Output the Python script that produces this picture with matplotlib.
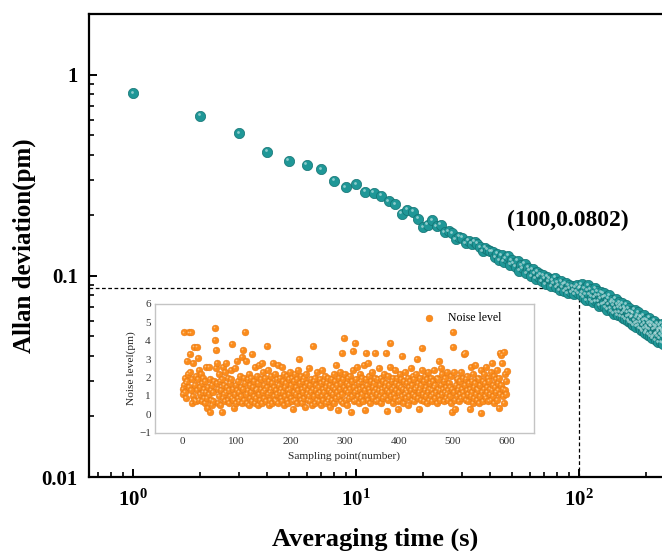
import numpy as np
import matplotlib
matplotlib.use("Agg")
import matplotlib.pyplot as plt
from matplotlib.ticker import LogLocator, NullFormatter, FuncFormatter, FixedLocator, FixedFormatter
from matplotlib.transforms import offset_copy

plt.rcParams['font.family'] = ['Liberation Serif', 'DejaVu Serif']
plt.rcParams['mathtext.fontset'] = 'custom'
plt.rcParams['mathtext.rm'] = 'Liberation Serif'
plt.rcParams['mathtext.bf'] = 'Liberation Serif:bold'

#
# Allan deviation, tau = 1, 2, 3 ... seconds
#
allan_dev = [
    0.814, 0.628, 0.514, 0.415, 0.374, 0.357, 0.340, 0.298, 0.277, 0.287,
    0.262, 0.259, 0.251, 0.235, 0.228, 0.204, 0.214, 0.209, 0.193, 0.175,
    0.180, 0.189, 0.177, 0.180, 0.165, 0.167, 0.163, 0.152, 0.157, 0.155,
    0.146, 0.150, 0.145, 0.148, 0.145, 0.139, 0.133, 0.138, 0.135, 0.133,
    0.132, 0.124, 0.129, 0.120, 0.127, 0.118, 0.123, 0.126, 0.114, 0.120,
    0.116, 0.111, 0.119, 0.106, 0.113, 0.109, 0.115, 0.103, 0.110, 0.106,
    0.100, 0.108, 0.103, 0.097, 0.105, 0.099, 0.102, 0.094, 0.101, 0.097,
    0.091, 0.099, 0.094, 0.097, 0.089, 0.095, 0.092, 0.098, 0.088, 0.093,
    0.090, 0.085, 0.094, 0.088, 0.091, 0.084, 0.092, 0.086, 0.082, 0.090,
    0.087, 0.083, 0.089, 0.085, 0.081, 0.088, 0.084, 0.090, 0.082, 0.087,
    0.088, 0.080, 0.091, 0.083, 0.078, 0.087, 0.081, 0.076, 0.085, 0.090,
    0.081, 0.076, 0.086, 0.079, 0.074, 0.083, 0.078, 0.087, 0.075, 0.080,
    0.084, 0.075, 0.071, 0.080, 0.077, 0.083, 0.072, 0.078, 0.082, 0.073,
    0.070, 0.079, 0.075, 0.068, 0.077, 0.072, 0.080, 0.069, 0.074, 0.067,
    0.076, 0.071, 0.065, 0.074, 0.069, 0.077, 0.066, 0.072, 0.064, 0.070,
    0.074, 0.066, 0.071, 0.063, 0.069, 0.073, 0.065, 0.062, 0.070, 0.067,
    0.061, 0.068, 0.072, 0.063, 0.066, 0.060, 0.069, 0.064, 0.059, 0.067,
    0.062, 0.058, 0.066, 0.063, 0.057, 0.065, 0.060, 0.068, 0.058, 0.062,
    0.056, 0.064, 0.059, 0.066, 0.057, 0.061, 0.055, 0.063, 0.059, 0.054,
    0.062, 0.057, 0.053, 0.060, 0.064, 0.055, 0.058, 0.052, 0.061, 0.056,
    0.053, 0.060, 0.055, 0.051, 0.058, 0.062, 0.054, 0.050, 0.057, 0.059,
    0.052, 0.056, 0.049, 0.058, 0.054, 0.050, 0.057, 0.060, 0.051, 0.055,
    0.048, 0.056, 0.052, 0.058, 0.050, 0.054, 0.047, 0.053, 0.057, 0.049,
    0.055, 0.051, 0.047, 0.054, 0.058, 0.050, 0.053, 0.046, 0.052, 0.056,
]
tau = np.arange(1, len(allan_dev) + 1)

# marked point
mark_tau = 100
mark_dev = 0.0875
mark_label = "(100,0.0802)"

#
# Noise level of each sampling point (inset)
#
noise_level = np.array("""
1.4 1.1 4.45 1.6 2.0 1.2 0.9 1.7 2.9 1.8 2.2 4.45 1.5 2.3 3.3 4.45 1.3 1.9 0.6 2.8
1.0 3.65 0.8 1.6 2.1 0.7 1.3 3.65 1.9 3.05 2.4 0.8 1.5 1.1 2.2 0.7 1.7 1.2 2.0 0.9
1.4 1.8 0.6 2.6 1.2 0.9 0.33 1.5 1.1 2.6 0.15 1.9 0.8 1.3 1.6 0.5 1.2 0.7 1.8 4.67
4.04 2.5 3.5 1.7 2.8 0.6 1.4 1.0 2.2 1.8 0.5 1.3 0.15 1.9 0.9 2.6 1.1 1.6 0.7 2.3
1.2 2.8 1.5 0.8 2.0 1.3 0.6 1.7 1.0 2.4 1.9 3.85 0.9 1.4 0.8 0.35 1.1 2.5 0.6 1.6
1.3 2.9 0.9 1.8 1.2 0.7 2.1 1.5 1.0 3.1 0.6 1.4 3.5 2.0 0.8 1.7 4.49 2.9 1.1 0.6
1.9 1.3 2.2 0.5 1.6 0.9 1.2 2.0 0.7 3.3 1.5 1.0 1.8 0.6 2.6 1.3 0.9 2.1 1.4 0.5
1.7 2.7 1.1 0.8 1.9 1.4 2.8 0.6 1.2 2.3 1.6 0.9 1.3 2.0 0.7 3.7 1.5 1.1 2.4 0.5
1.8 1.2 0.8 2.1 1.4 0.6 1.7 2.8 1.0 1.5 0.8 2.2 1.3 0.7 1.9 1.1 2.7 0.6 1.6 1.2
2.0 0.9 1.4 2.6 0.7 1.8 1.2 0.5 2.2 1.5 1.0 1.7 0.8 2.1 1.3 0.6 1.9 1.1 2.3 1.4
0.9 1.6 2.0 0.7 0.28 1.8 1.2 2.2 0.8 1.5 1.1 1.9 0.6 2.4 1.3 3.0 1.0 1.7 0.8 2.1
1.4 0.6 1.8 1.2 2.0 0.9 1.5 0.4 2.2 1.1 1.7 0.8 1.3 2.5 1.0 1.6 0.7 1.9 1.2 0.5
1.4 3.7 1.8 1.0 0.6 2.0 1.3 1.6 0.8 2.3 1.1 1.5 0.7 1.9 1.2 0.5 1.7 2.4 1.0 1.4
0.8 1.8 1.2 2.1 0.6 1.5 1.0 1.7 0.7 2.0 1.3 0.9 1.6 0.4 1.2 1.9 0.8 1.5 1.1 2.2
0.6 1.4 1.8 0.9 2.7 1.2 1.6 0.25 2.0 1.0 1.4 2.3 0.7 1.7 3.35 1.1 1.9 0.6 4.13 1.5
2.2 0.8 1.3 1.7 0.5 2.0 1.2 1.6 0.9 2.1 1.4 0.15 1.8 1.0 2.4 3.45 0.7 1.5 3.9 1.2
1.9 0.8 2.6 1.3 1.0 1.7 0.6 2.2 1.4 0.9 1.8 1.1 2.0 0.7 1.5 2.7 0.25 1.3 1.9 3.36
1.0 1.6 2.8 0.8 1.4 2.1 1.2 0.6 1.8 1.0 2.3 1.5 0.9 1.7 1.2 2.0 3.33 0.7 1.4 1.1
1.9 0.8 2.5 1.3 1.6 1.0 0.6 2.0 1.4 1.2 1.8 0.9 2.2 1.5 1.0 3.33 1.7 0.2 1.3 2.1
0.8 1.6 1.2 2.6 3.9 1.0 1.8 1.4 0.6 2.0 1.1 1.5 2.4 0.9 1.7 1.3 2.0 0.7 0.3 1.6
1.2 2.2 0.8 1.5 1.9 1.0 3.15 1.4 0.6 1.8 1.1 2.3 1.3 0.9 1.7 1.2 2.0 0.5 1.5 1.0
1.8 2.5 1.3 0.8 1.6 2.1 1.1 0.7 1.9 1.4 1.0 2.2 1.5 3.0 0.9 1.7 0.3 1.2 2.0 1.4
0.8 1.6 2.4 3.6 1.1 1.8 0.7 1.3 2.1 1.0 1.5 0.6 1.9 1.2 2.3 0.8 1.4 1.7 1.0 2.0
1.3 0.7 1.8 1.1 2.4 1.5 0.9 1.6 1.2 2.0 0.6 1.4 1.9 1.0 2.9 1.3 0.8 2.5 1.6 1.1
2.2 1.4 0.7 1.8 1.2 2.0 0.9 1.5 1.1 2.3 1.3 0.8 1.7 1.0 1.5 2.1 0.6 1.4 0.15 3.65
4.47 1.2 2.3 0.8 0.28 1.6 1.0 1.9 1.3 2.0 0.7 1.5 1.1 1.8 2.3 0.9 1.4 1.2 2.0 3.3
1.0 1.6 3.35 0.8 1.9 1.3 2.1 1.1 0.7 1.7 0.3 1.4 2.6 1.0 1.8 1.2 0.6 2.2 1.5 0.9
1.7 2.7 1.1 1.4 0.8 2.0 1.3 0.6 1.9 1.0 1.6 2.4 0.05 1.2 1.8 0.7 2.2 1.4 1.0 1.7
2.6 0.9 1.5 1.2 2.0 0.7 1.8 1.1 1.4 2.3 0.8 2.8 1.3 1.6 1.0 2.1 0.6 1.5 1.9 1.2
2.4 0.8 1.7 1.3 0.35 2.0 1.1 3.35 1.6 3.2 2.8 1.0 1.4 3.4 0.6 2.2 1.3 1.8 1.1 2.35
""".split(), dtype=float)
sample_no = np.arange(1, len(noise_level) + 1)

teal = "#1f9797"
teal_dark = "#137272"
orange = "#fb8c1c"

fig = plt.figure(figsize=(6.62, 5.51), dpi=100)
ax = fig.add_axes([0.1344, 0.1343, 0.8656, 0.8403])

ax.set_xscale("log")
ax.set_yscale("log")
ax.set_xlim(0.635, 235.6)
ax.set_ylim(0.01, 2.01)

# shiny balls: main dot plus small highlight shifted up-left
ax.scatter(tau, allan_dev, s=55, color=teal, edgecolors=teal_dark, linewidths=0.5, zorder=3)
hl = offset_copy(ax.transData, fig=fig, x=-1.0, y=1.0, units="points")
ax.scatter(tau, allan_dev, s=4, color="#d8f0f0", alpha=0.6, linewidths=0, transform=hl, zorder=4)

# dashed guide lines to the marked point
ax.plot([0.635, mark_tau], [mark_dev, mark_dev], ls=(0, (3, 2)), color="black", lw=0.9, zorder=2)
ax.plot([mark_tau, mark_tau], [0.01, mark_dev], ls=(0, (3, 2)), color="black", lw=0.9, zorder=2)
ax.text(89.3, 0.1885, mark_label, fontsize=17, fontweight="bold", ha="center", va="center")

ax.spines["right"].set_visible(False)
for side in ["left", "top", "bottom"]:
    ax.spines[side].set_linewidth(1.6)

ax.xaxis.set_major_locator(FixedLocator([1, 10, 100]))
ax.xaxis.set_major_formatter(FixedFormatter([r"$\mathbf{10^{0}}$", r"$\mathbf{10^{1}}$", r"$\mathbf{10^{2}}$"]))
ax.xaxis.set_minor_locator(LogLocator(base=10, subs=np.arange(2, 10)))
ax.xaxis.set_minor_formatter(NullFormatter())
ax.yaxis.set_major_locator(FixedLocator([0.01, 0.1, 1]))
ax.yaxis.set_major_formatter(FuncFormatter(lambda v, _: f"{v:g}"))
ax.yaxis.set_minor_locator(LogLocator(base=10, subs=np.arange(2, 10)))
ax.yaxis.set_minor_formatter(NullFormatter())

ax.tick_params(which="major", direction="in", length=6, width=1.4, labelsize=15, top=False, right=False)
ax.tick_params(which="minor", direction="in", length=3.5, width=1.2, top=False, right=False)
ax.tick_params(axis="x", which="major", pad=9)
ax.tick_params(axis="y", which="major", pad=8)
for lab in ax.get_yticklabels():
    lab.set_fontweight("bold")

ax.set_xlabel("Averaging time (s)", fontsize=19, fontweight="bold", labelpad=12)
ax.set_ylabel("Allan deviation(pm)", fontsize=18, fontweight="bold", labelpad=4)

#
# Inset: noise level of each sampling point
#
ins = fig.add_axes([0.2341, 0.2147, 0.5725, 0.2336])
ins.set_facecolor("white")
ins.scatter(sample_no, noise_level, s=24, color=orange, edgecolors="#e47512", linewidths=0.3,
            label="Noise level", zorder=3)
hl2 = offset_copy(ins.transData, fig=fig, x=-0.7, y=0.7, units="points")
ins.scatter(sample_no, noise_level, s=1.5, color="#ffd9a8", alpha=0.7, linewidths=0, transform=hl2, zorder=4)
ins.set_xlim(-50, 650)
ins.set_ylim(-1, 6)
ins.set_xticks([0, 100, 200, 300, 400, 500, 600])
ins.set_yticks([-1, 0, 1, 2, 3, 4, 5, 6])
ins.yaxis.set_major_formatter(FuncFormatter(lambda v, _: f"{v:g}".replace("-", "\u2212")))
ins.tick_params(length=0, labelsize=8, colors="#333333", pad=3)
for side in ins.spines.values():
    side.set_color("#c4c4c4")
    side.set_linewidth(1.0)
ins.set_xlabel("Sampling point(number)", fontsize=8.2, color="#222222", labelpad=4)
ins.set_ylabel("Noise level(pm)", fontsize=8.2, color="#222222", labelpad=2)
ins.legend(loc="upper right", frameon=False, fontsize=8.5, handletextpad=0.6,
           borderaxespad=0.3, bbox_to_anchor=(0.935, 1.0))

fig.savefig("out.png", dpi=100)
